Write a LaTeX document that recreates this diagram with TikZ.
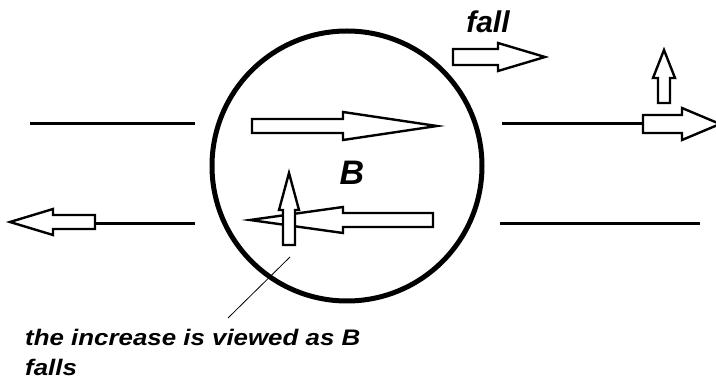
\documentclass[tikz,border=0pt]{standalone}
\usepackage{fontspec}
\setmainfont{Liberation Sans}
\newfontfamily\widefont[FakeStretch=1.15]{Liberation Sans}
\newcommand{\harrow}[6]{% xs, xb, xt, y, shaft half-width, head half-width
  \filldraw[blockarrow] ({#1},{#4-#5}) -- ({#2},{#4-#5}) -- ({#2},{#4-#6}) -- ({#3},{#4}) -- ({#2},{#4+#6}) -- ({#2},{#4+#5}) -- ({#1},{#4+#5}) -- cycle;}
\newcommand{\varrow}[6]{% ys, yb, yt, x, shaft half-width, head half-width
  \filldraw[blockarrow] ({#4-#5},{#1}) -- ({#4-#5},{#2}) -- ({#4-#6},{#2}) -- ({#4},{#3}) -- ({#4+#6},{#2}) -- ({#4+#5},{#2}) -- ({#4+#5},{#1}) -- cycle;}
\begin{document}
\begin{tikzpicture}[x=1pt,y=-1pt,
  blockarrow/.style={draw=black,fill=white,line width=2.4pt,line join=miter},
  wire/.style={draw=black,line width=3pt},
  lbl/.style={inner sep=0pt,font=\bfseries\itshape}]
\useasboundingbox (0,0) rectangle (716,379);
% circle
\node[draw=black,line width=5pt,circle,minimum size=270pt,inner sep=0pt] (circ) at (347,166) {};
% lines
\coordinate (l1a) at (30,124); \coordinate (l1b) at (195,124);
\coordinate (l2a) at (96,224); \coordinate (l2b) at (195,224);
\coordinate (r1a) at (502,124); \coordinate (r1b) at (643,124);
\coordinate (r2a) at (500,224); \coordinate (r2b) at (700,224);
\draw[wire] (l1a) -- (l1b);
\draw[wire] (l2a) -- (l2b);
\draw[wire] (r1a) -- (r1b);
\draw[wire] (r2a) -- (r2b);
% arrows
\harrow{252}{343}{437}{126}{7}{14}
\harrow{433}{343}{250}{220}{7}{13}
\varrow{245}{210}{173}{289}{6}{10}
\harrow{453}{498}{545}{57}{8}{14}
\varrow{103}{78}{50}{664}{6}{11}
\harrow{643}{682}{720}{124}{9}{16}
\harrow{95}{53}{10}{222}{7}{13}
% labels
\node[lbl,anchor=base,font=\fontsize{34}{38}\selectfont\bfseries\itshape] (B) at (352,185) {B};
\node[lbl,anchor=base,font=\fontsize{30}{34}\selectfont\bfseries\itshape] (fall) at (488,33) {fall};
\node[lbl,anchor=north west,align=left,font=\fontsize{22.5}{26}\selectfont\widefont\bfseries\itshape] (note) at (25,329) {the increase is viewed as B\\[4pt]falls};
\coordinate (ptr) at (290,257);
\coordinate (ptrend) at (228,318);
\draw[line width=0.8pt] (ptr) -- (ptrend);
\end{tikzpicture}
\end{document}
